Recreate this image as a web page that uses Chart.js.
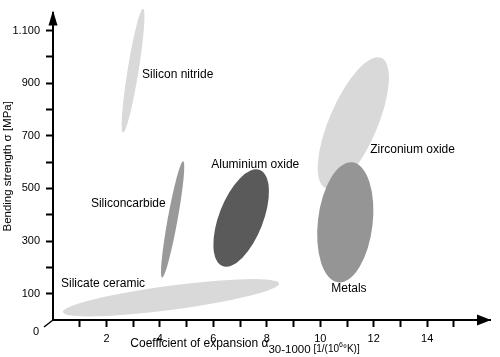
<!DOCTYPE html>
<html>
<head>
<meta charset="utf-8">
<script src="https://cdn.jsdelivr.net/npm/chart.js@4.4.0/dist/chart.umd.min.js"></script>
<style>
  html, body { margin: 0; padding: 0; background: #fff; }
  #wrap { width: 500px; height: 357px; }
</style>
</head>
<body>
<div id="wrap"><canvas id="materialChart" width="500" height="357"></canvas></div>
<script>
// --- DATA ---
// every material is a region (ellipse) stretched between two end points of its long axis
const materials = ['Silicate ceramic', 'Silicon nitride', 'Siliconcarbide', 'Aluminium oxide', 'Zirconium oxide', 'Metals'];
// coefficient of expansion at both ends [1/(10^6 K)]
const expansionFrom = [0.37, 2.62, 4.08, 6.34, 10.19, 10.67];
const expansionTo   = [8.46, 3.37, 4.87, 7.74, 12.28, 11.20];
// bending strength at both ends [MPa]
const strengthFrom = [30, 712, 161, 205, 502, 143];
const strengthTo   = [139, 1183, 603, 570, 996, 599];
// spread across the long axis (in expansion units)
const spread = [0.9, 0.41, 0.37, 1.65, 1.8, 2.05];

const xTickLabels = ['2', '4', '6', '8', '10', '12', '14'];
const yTickLabels = ['100', '300', '500', '700', '900', '1.100'];

// --- STYLE ---
const FONT = '"Liberation Sans", Arial, Helvetica, sans-serif';
const fills = ['#d9d9d9', '#d9d9d9', '#999999', '#5a5a5a', '#d9d9d9', '#959595'];
// where each name is written (data coords, left edge / middle)
const labelAt = [[0.3, 139], [3.33, 933], [1.42, 442], [5.92, 592], [11.87, 648], [10.41, 120]];

Chart.defaults.font.family = FONT;
Chart.defaults.color = '#000';

const datasets = materials.map((m, i) => ({
    label: m,
    data: [{ x: expansionFrom[i], y: strengthFrom[i] }, { x: expansionTo[i], y: strengthTo[i] }],
    backgroundColor: fills[i],
    pointRadius: 0,
    pointHoverRadius: 0,
    showLine: false
}));

// draws the regions as ellipses using the positions the scales gave the end points
const ellipsePlugin = {
    id: 'ellipses',
    beforeDatasetsDraw(chart) {
        const ctx = chart.ctx;
        const xs = chart.scales.x;
        ctx.save();
        chart.data.datasets.forEach((ds, i) => {
            const pts = chart.getDatasetMeta(i).data;
            const p1 = pts[0], p2 = pts[1];
            const cx = (p1.x + p2.x) / 2, cy = (p1.y + p2.y) / 2;
            const a = Math.hypot(p2.x - p1.x, p2.y - p1.y) / 2;
            const b = (xs.getPixelForValue(spread[i]) - xs.getPixelForValue(0)) / 2;
            const rot = Math.atan2(p2.y - p1.y, p2.x - p1.x);
            ctx.fillStyle = fills[i];
            ctx.beginPath();
            ctx.ellipse(cx, cy, a, b, rot, 0, Math.PI * 2);
            ctx.fill();
        });
        ctx.restore();
    },
    afterDatasetsDraw(chart) {
        const ctx = chart.ctx;
        const xs = chart.scales.x, ys = chart.scales.y;
        ctx.save();
        ctx.fillStyle = '#000';
        ctx.font = '12px ' + FONT;
        ctx.textAlign = 'left';
        ctx.textBaseline = 'middle';
        materials.forEach((m, i) => {
            ctx.fillText(m, xs.getPixelForValue(labelAt[i][0]), ys.getPixelForValue(labelAt[i][1]));
        });
        ctx.restore();
    }
};

// arrows, the slanted zero and the x title with sub/superscripts
const axisPlugin = {
    id: 'axisExtras',
    afterDraw(chart) {
        const ctx = chart.ctx;
        const area = chart.chartArea;
        const x0 = area.left, y0 = area.bottom;
        ctx.save();
        ctx.fillStyle = '#000';
        ctx.strokeStyle = '#000';

        // y arrow
        ctx.beginPath();
        ctx.moveTo(x0, area.top - 2);
        ctx.lineTo(x0 - 4.5, area.top + 13);
        ctx.lineTo(x0 + 4.5, area.top + 13);
        ctx.closePath();
        ctx.fill();
        // x arrow
        ctx.beginPath();
        ctx.moveTo(area.right + 1, y0);
        ctx.lineTo(area.right - 13, y0 - 5.5);
        ctx.lineTo(area.right - 13, y0 + 5.5);
        ctx.closePath();
        ctx.fill();

        // slanted zero
        ctx.lineWidth = 1.5;
        ctx.beginPath();
        ctx.moveTo(x0, y0);
        ctx.lineTo(x0 - 9, y0 + 7);
        ctx.stroke();
        ctx.font = '11px ' + FONT;
        ctx.textAlign = 'center';
        ctx.textBaseline = 'middle';
        ctx.fillText('0', x0 - 17, y0 + 12);

        // x title
        const parts = [
            { t: 'Coefficient of expansion \u03b1', size: 12, dy: 0 },
            { t: '30-1000', size: 11.5, dy: 6 },
            { t: ' [1/(10', size: 10, dy: 5 },
            { t: '6', size: 7, dy: 0 },
            { t: '\u00b0K)]', size: 10, dy: 5 }
        ];
        ctx.textAlign = 'left';
        ctx.textBaseline = 'alphabetic';
        let total = 0;
        parts.forEach(p => { ctx.font = p.size + 'px ' + FONT; p.w = ctx.measureText(p.t).width; total += p.w; });
        let x = 245 - total / 2;
        const base = y0 + 27;
        parts.forEach(p => {
            ctx.font = p.size + 'px ' + FONT;
            ctx.fillText(p.t, x, base + p.dy);
            x += p.w;
        });
        ctx.restore();
    }
};

new Chart(document.getElementById('materialChart'), {
    type: 'scatter',
    data: { datasets },
    options: {
        responsive: false,
        animation: false,
        events: [],
        layout: { padding: { top: 8, right: 10, left: 0, bottom: 0 } },
        plugins: { legend: { display: false }, tooltip: { enabled: false } },
        scales: {
            x: {
                type: 'linear',
                min: 0,
                max: 16.35,
                afterFit: s => { s.height = 37; },
                afterBuildTicks: s => { s.ticks = s.ticks.filter(t => Number.isInteger(t.value) && t.value >= 1 && t.value <= 15); },
                ticks: {
                    stepSize: 1,
                    autoSkip: false,
                    maxRotation: 0,
                    padding: 5,
                    font: { size: 11 },
                    color: '#000',
                    callback: v => (v % 2 === 0 ? xTickLabels[v / 2 - 1] || '' : '')
                },
                grid: { display: true, drawOnChartArea: false, drawTicks: true, tickLength: 7, tickWidth: 2, tickColor: '#000' },
                border: { display: true, color: '#000', width: 2 }
            },
            y: {
                type: 'linear',
                min: 0,
                max: 1168,
                afterFit: s => { s.width = 53; },
                afterBuildTicks: s => { s.ticks = s.ticks.filter(t => t.value >= 100 && t.value <= 1100 && t.value % 100 === 0); },
                ticks: {
                    stepSize: 100,
                    autoSkip: false,
                    padding: 6,
                    font: { size: 11 },
                    color: '#000',
                    callback: v => (v % 200 === 100 ? yTickLabels[(v - 100) / 200] : '')
                },
                grid: { display: true, drawOnChartArea: false, drawTicks: true, tickLength: 7, tickWidth: 2, tickColor: '#000' },
                border: { display: true, color: '#000', width: 2 },
                title: {
                    display: true,
                    text: 'Bending strength \u03c3 [MPa]',
                    font: { size: 11.5 },
                    color: '#000',
                    padding: { top: 1, bottom: 0 }
                }
            }
        }
    },
    plugins: [ellipsePlugin, axisPlugin]
});
</script>
</body>
</html>
